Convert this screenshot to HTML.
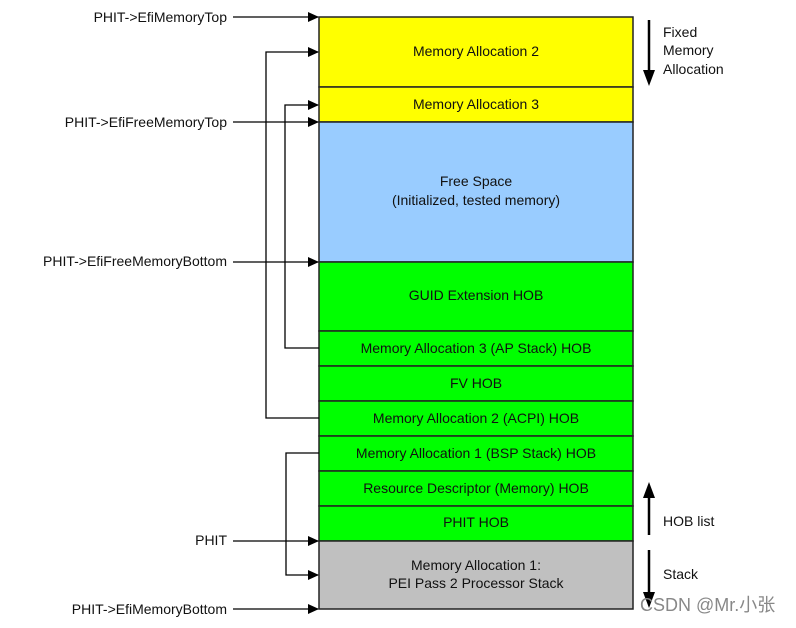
<!DOCTYPE html>
<html><head><meta charset="utf-8"><style>
body{margin:0;background:#fff;width:796px;height:623px;overflow:hidden;font-family:"Liberation Sans","Noto Sans CJK SC",sans-serif;}
</style></head><body>
<svg width="796" height="623" xmlns="http://www.w3.org/2000/svg" font-family="Liberation Sans, Noto Sans CJK SC, sans-serif" font-size="14">
<defs><marker id="a" markerWidth="11" markerHeight="10" refX="10" refY="5" orient="auto" markerUnits="userSpaceOnUse"><path d="M0,0 L11,5 L0,10 z" fill="#000"/></marker></defs>
<g stroke="#222" stroke-width="1.5">
<rect x="319" y="17" width="314" height="70" fill="#ffff00"/>
<rect x="319" y="87" width="314" height="35" fill="#ffff00"/>
<rect x="319" y="122" width="314" height="140" fill="#99ccff"/>
<rect x="319" y="262" width="314" height="69" fill="#00ff00"/>
<rect x="319" y="331" width="314" height="35" fill="#00ff00"/>
<rect x="319" y="366" width="314" height="35" fill="#00ff00"/>
<rect x="319" y="401" width="314" height="35" fill="#00ff00"/>
<rect x="319" y="436" width="314" height="35" fill="#00ff00"/>
<rect x="319" y="471" width="314" height="35" fill="#00ff00"/>
<rect x="319" y="506" width="314" height="35" fill="#00ff00"/>
<rect x="319" y="541" width="314" height="68" fill="#c0c0c0"/>
</g>
<g fill="#111" text-anchor="middle">
<text x="476" y="56">Memory Allocation 2</text>
<text x="476" y="109">Memory Allocation 3</text>
<text x="476" y="186">Free Space</text>
<text x="476" y="205">(Initialized, tested memory)</text>
<text x="476" y="300">GUID Extension HOB</text>
<text x="476" y="353">Memory Allocation 3 (AP Stack) HOB</text>
<text x="476" y="388">FV HOB</text>
<text x="476" y="423">Memory Allocation 2 (ACPI) HOB</text>
<text x="476" y="458">Memory Allocation 1 (BSP Stack) HOB</text>
<text x="476" y="493">Resource Descriptor (Memory) HOB</text>
<text x="476" y="527">PHIT HOB</text>
<text x="476" y="570">Memory Allocation 1:</text>
<text x="476" y="588">PEI Pass 2 Processor Stack</text>
</g>
<g fill="#111" text-anchor="end">
<text x="227" y="22">PHIT-&gt;EfiMemoryTop</text>
<text x="227" y="127">PHIT-&gt;EfiFreeMemoryTop</text>
<text x="227" y="266">PHIT-&gt;EfiFreeMemoryBottom</text>
<text x="227" y="545">PHIT</text>
<text x="227" y="614">PHIT-&gt;EfiMemoryBottom</text>
</g>
<g stroke="#000" stroke-width="1.3" fill="none" marker-end="url(#a)">
<path d="M233,17 H318"/>
<path d="M233,122 H318"/>
<path d="M233,262 H318"/>
<path d="M233,541 H318"/>
<path d="M233,609 H318"/>
<path d="M319,418 H266 V52 H318"/>
<path d="M319,348 H285 V105 H318"/>
<path d="M319,453 H286 V575 H318"/>
</g>
<g stroke="#000" stroke-width="2.5">
<line x1="649" y1="20" x2="649" y2="72"/>
<line x1="649" y1="535" x2="649" y2="495"/>
<line x1="649" y1="550" x2="649" y2="595"/>
</g>
<path d="M643,70 L655,70 L649,86 z" fill="#000"/>
<path d="M643,498 L655,498 L649,482 z" fill="#000"/>
<path d="M643,592 L655,592 L649,608 z" fill="#000"/>
<g fill="#111">
<text x="663" y="37">Fixed</text>
<text x="663" y="55">Memory</text>
<text x="663" y="74">Allocation</text>
<text x="663" y="526">HOB list</text>
<text x="663" y="579">Stack</text>
</g>
<text x="640" y="611" fill="#888" font-size="18">CSDN @Mr.小张</text>
</svg>
</body></html>
